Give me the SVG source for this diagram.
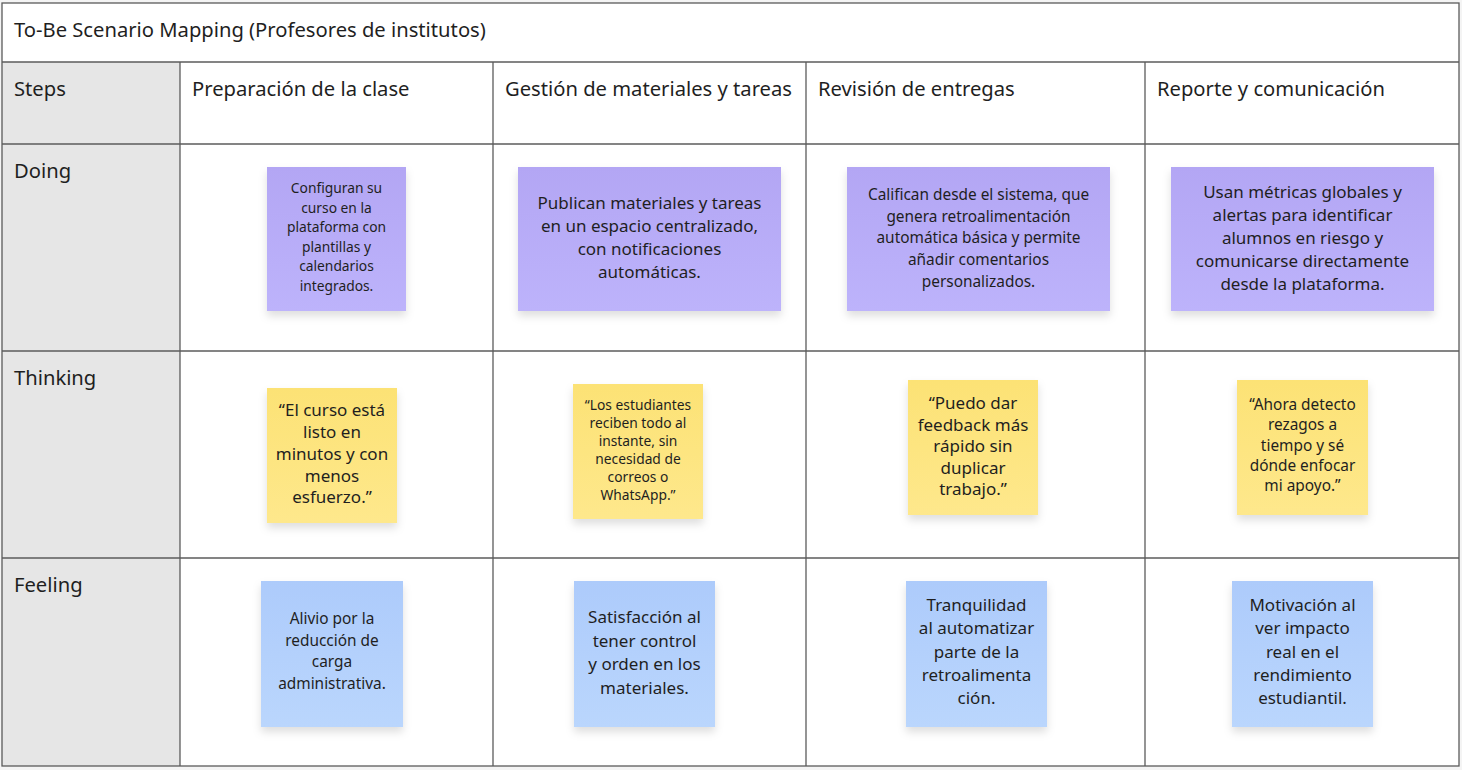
<svg xmlns="http://www.w3.org/2000/svg" width="1462" height="770" viewBox="0 0 1462 770">
<style>
.t{font-family:"Noto Sans","Open Sans","DejaVu Sans",sans-serif;fill:#1f1f1f}
.hd{font-size:20.2px}
.s13{font-size:13.8px;text-anchor:middle}
.s14{font-size:15.4px;text-anchor:middle}
.s16{font-size:17px;text-anchor:middle}
.grid{fill:none;stroke:#5b5b5b;stroke-width:1.3}
</style>
<defs>
<linearGradient id="gp" x1="0" y1="0" x2="0" y2="1"><stop offset="0" stop-color="#b3a6f4"/><stop offset="1" stop-color="#bdb3fb"/></linearGradient>
<linearGradient id="gy" x1="0" y1="0" x2="0" y2="1"><stop offset="0" stop-color="#fce275"/><stop offset="1" stop-color="#fee88c"/></linearGradient>
<linearGradient id="gb" x1="0" y1="0" x2="0" y2="1"><stop offset="0" stop-color="#adcbfb"/><stop offset="1" stop-color="#bad6fd"/></linearGradient>
<filter id="sh" x="-20%" y="-20%" width="140%" height="150%"><feDropShadow dx="0" dy="5" stdDeviation="4" flood-color="#000" flood-opacity="0.13"/></filter>
</defs>
<rect x="0" y="0" width="1462" height="770" fill="#f4f4f4"/>
<g id="table">
<rect x="2" y="3" width="1457" height="763" fill="#ffffff"/>
<rect x="2" y="62" width="178" height="704" fill="#e6e6e6"/>
<g class="grid">
<rect x="2" y="3" width="1457" height="763"/>
<line x1="2" y1="62" x2="1459" y2="62"/>
<line x1="2" y1="144" x2="1459" y2="144"/>
<line x1="2" y1="351" x2="1459" y2="351"/>
<line x1="2" y1="558" x2="1459" y2="558"/>
<line x1="180" y1="62" x2="180" y2="766"/>
<line x1="493" y1="62" x2="493" y2="766"/>
<line x1="806" y1="62" x2="806" y2="766"/>
<line x1="1145" y1="62" x2="1145" y2="766"/>
</g>
<text class="t hd" x="14" y="37">To-Be Scenario Mapping (Profesores de institutos)</text>
<text class="t hd" x="14" y="96">Steps</text>
<text class="t hd" x="192" y="96">Preparación de la clase</text>
<text class="t hd" x="505" y="96">Gestión de materiales y tareas</text>
<text class="t hd" x="818" y="96">Revisión de entregas</text>
<text class="t hd" x="1157" y="96">Reporte y comunicación</text>
<text class="t hd" x="14" y="178">Doing</text>
<text class="t hd" x="14" y="385">Thinking</text>
<text class="t hd" x="14" y="592">Feeling</text>
</g>
<g id="connectors"></g>
<g id="doing-1"><rect x="267" y="167" width="139" height="144" fill="url(#gp)" filter="url(#sh)"/>
<text class="t s13" x="336.5"><tspan x="336.5" y="193">Configuran su</tspan><tspan x="336.5" y="212.5">curso en la</tspan><tspan x="336.5" y="232">plataforma con</tspan><tspan x="336.5" y="251.5">plantillas y</tspan><tspan x="336.5" y="271">calendarios</tspan><tspan x="336.5" y="290.5">integrados.</tspan></text></g>
<g id="doing-2"><rect x="518" y="167" width="263" height="144" fill="url(#gp)" filter="url(#sh)"/>
<text class="t s16"><tspan x="649.5" y="209">Publican materiales y tareas</tspan><tspan x="649.5" y="232">en un espacio centralizado,</tspan><tspan x="649.5" y="255">con notificaciones</tspan><tspan x="649.5" y="278">automáticas.</tspan></text></g>
<g id="doing-3"><rect x="847" y="167" width="263" height="144" fill="url(#gp)" filter="url(#sh)"/>
<text class="t s14"><tspan x="978.5" y="200">Califican desde el sistema, que</tspan><tspan x="978.5" y="221.7">genera retroalimentación</tspan><tspan x="978.5" y="243.4">automática básica y permite</tspan><tspan x="978.5" y="265.1">añadir comentarios</tspan><tspan x="978.5" y="286.8">personalizados.</tspan></text></g>
<g id="doing-4"><rect x="1171" y="167" width="263" height="144" fill="url(#gp)" filter="url(#sh)"/>
<text class="t s16"><tspan x="1302.5" y="198">Usan métricas globales y</tspan><tspan x="1302.5" y="221">alertas para identificar</tspan><tspan x="1302.5" y="244">alumnos en riesgo y</tspan><tspan x="1302.5" y="267">comunicarse directamente</tspan><tspan x="1302.5" y="290">desde la plataforma.</tspan></text></g>
<g id="thinking-1"><rect x="267" y="388" width="130" height="135" fill="url(#gy)" filter="url(#sh)"/>
<text class="t s16"><tspan x="332" y="416">“El curso está</tspan><tspan x="332" y="438">listo en</tspan><tspan x="332" y="460">minutos y con</tspan><tspan x="332" y="482">menos</tspan><tspan x="332" y="503">esfuerzo.”</tspan></text></g>
<g id="thinking-2"><rect x="573" y="384" width="130" height="135" fill="url(#gy)" filter="url(#sh)"/>
<text class="t s13"><tspan x="638" y="410">“Los estudiantes</tspan><tspan x="638" y="428">reciben todo al</tspan><tspan x="638" y="446">instante, sin</tspan><tspan x="638" y="464">necesidad de</tspan><tspan x="638" y="482">correos o</tspan><tspan x="638" y="500">WhatsApp.”</tspan></text></g>
<g id="thinking-3"><rect x="908" y="380" width="130" height="135" fill="url(#gy)" filter="url(#sh)"/>
<text class="t s16"><tspan x="973" y="409">“Puedo dar</tspan><tspan x="973" y="430.5">feedback más</tspan><tspan x="973" y="452">rápido sin</tspan><tspan x="973" y="473.5">duplicar</tspan><tspan x="973" y="495">trabajo.”</tspan></text></g>
<g id="thinking-4"><rect x="1237" y="380" width="131" height="135" fill="url(#gy)" filter="url(#sh)"/>
<text class="t s14"><tspan x="1302.5" y="410">“Ahora detecto</tspan><tspan x="1302.5" y="430.3">rezagos a</tspan><tspan x="1302.5" y="450.6">tiempo y sé</tspan><tspan x="1302.5" y="470.9">dónde enfocar</tspan><tspan x="1302.5" y="491.2">mi apoyo.”</tspan></text></g>
<g id="feeling-1"><rect x="261" y="581" width="142" height="146" fill="url(#gb)" filter="url(#sh)"/>
<text class="t s14"><tspan x="332" y="624">Alivio por la</tspan><tspan x="332" y="645.7">reducción de</tspan><tspan x="332" y="667.4">carga</tspan><tspan x="332" y="689.1">administrativa.</tspan></text></g>
<g id="feeling-2"><rect x="574" y="581" width="141" height="146" fill="url(#gb)" filter="url(#sh)"/>
<text class="t s16"><tspan x="644.5" y="623">Satisfacción al</tspan><tspan x="644.5" y="646.5">tener control</tspan><tspan x="644.5" y="670">y orden en los</tspan><tspan x="644.5" y="693.5">materiales.</tspan></text></g>
<g id="feeling-3"><rect x="906" y="581" width="141" height="146" fill="url(#gb)" filter="url(#sh)"/>
<text class="t s16"><tspan x="976.5" y="611">Tranquilidad</tspan><tspan x="976.5" y="634.3">al automatizar</tspan><tspan x="976.5" y="657.6">parte de la</tspan><tspan x="976.5" y="680.9">retroalimenta</tspan><tspan x="976.5" y="704.2">ción.</tspan></text></g>
<g id="feeling-4"><rect x="1232" y="581" width="141" height="146" fill="url(#gb)" filter="url(#sh)"/>
<text class="t s16"><tspan x="1302.5" y="611">Motivación al</tspan><tspan x="1302.5" y="634.3">ver impacto</tspan><tspan x="1302.5" y="657.6">real en el</tspan><tspan x="1302.5" y="680.9">rendimiento</tspan><tspan x="1302.5" y="704.2">estudiantil.</tspan></text></g>
</svg>
